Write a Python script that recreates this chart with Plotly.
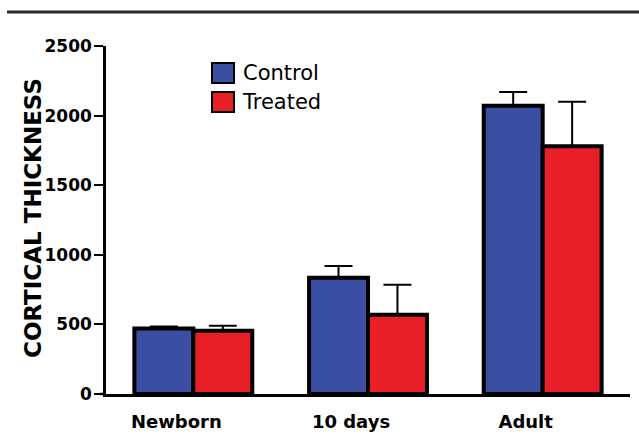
import plotly.graph_objects as go

categories = ["Newborn", "10 days", "Adult"]
control = [470, 835, 2070]
control_err = [15, 85, 100]
treated = [455, 570, 1780]
treated_err = [35, 215, 320]
y_ticks = [0, 500, 1000, 1500, 2000, 2500]

BLUE = "#3a4fa2"
RED = "#e81f27"

L, R, T, B = 106, 9, 46, 41
W, H = 639, 435
pw, ph = W - L - R, H - T - B

def px(x):
    return (x - L) / pw

def py(y):
    return (H - B - y) / ph

fig = go.Figure()
for name, vals, errs, col in [("Control", control, control_err, BLUE),
                              ("Treated", treated, treated_err, RED)]:
    fig.add_trace(go.Bar(
        x=categories, y=vals, name=name,
        marker=dict(color=col, line=dict(color="black", width=4)),
        error_y=dict(type="data", array=errs, arrayminus=[0] * len(errs),
                     symmetric=False, color="black", thickness=2, width=14),
        showlegend=False,
    ))

shapes = [
    dict(type="line", xref="paper", yref="paper", x0=px(7), x1=px(639),
         y0=py(12), y1=py(12), line=dict(color="#2b2b2b", width=3)),
    dict(type="line", xref="paper", yref="paper", x0=px(100), x1=0,
         y0=0, y1=0, line=dict(color="black", width=2.5)),
    dict(type="rect", xref="paper", yref="paper", x0=px(212), x1=px(234),
         y0=py(83), y1=py(63), fillcolor=BLUE, line=dict(color="black", width=2)),
    dict(type="rect", xref="paper", yref="paper", x0=px(212), x1=px(234),
         y0=py(112), y1=py(92), fillcolor=RED, line=dict(color="black", width=2)),
]
annotations = [
    dict(text="Control", xref="paper", yref="paper", x=px(241), y=py(73),
         xanchor="left", yanchor="middle", showarrow=False,
         font=dict(family="DejaVu Sans", size=21, color="black")),
    dict(text="Treated", xref="paper", yref="paper", x=px(240), y=py(102),
         xanchor="left", yanchor="middle", showarrow=False,
         font=dict(family="DejaVu Sans", size=21, color="black")),
    dict(text="CORTICAL THICKNESS", xref="paper", yref="paper",
         x=px(33), y=py(218), xanchor="center", yanchor="middle",
         textangle=-90, showarrow=False,
         font=dict(family="DejaVu Sans", size=23, weight="bold", color="black")),
]

fig.update_layout(
    width=W, height=H,
    margin=dict(l=L, r=R, t=T, b=B, pad=0, autoexpand=False),
    paper_bgcolor="white", plot_bgcolor="white",
    barmode="group", bargap=0.325, bargroupgap=0,
    shapes=shapes, annotations=annotations,
    font=dict(family="DejaVu Sans", color="black"),
)
fig.update_xaxes(
    showline=True, linecolor="black", linewidth=2.5, ticks="",
    showgrid=False, range=[-0.5, 2.5], ticklabelshift=-17, ticklabelstandoff=10,
    automargin=False,
    tickfont=dict(family="DejaVu Sans", size=18, weight="bold", color="black"),
)
fig.update_yaxes(
    range=[0, 2500], tickvals=y_ticks, showline=True, linecolor="black",
    linewidth=2.5, ticks="outside", ticklen=9, tickwidth=2, tickcolor="black",
    showgrid=False, zeroline=False, ticklabelstandoff=-1, automargin=False,
    tickfont=dict(family="DejaVu Sans", size=17, weight="bold", color="black"),
)

fig.write_html("out.html", config={"displayModeBar": False},
               post_script="document.body.style.margin='0';document.body.style.overflow='hidden';")
